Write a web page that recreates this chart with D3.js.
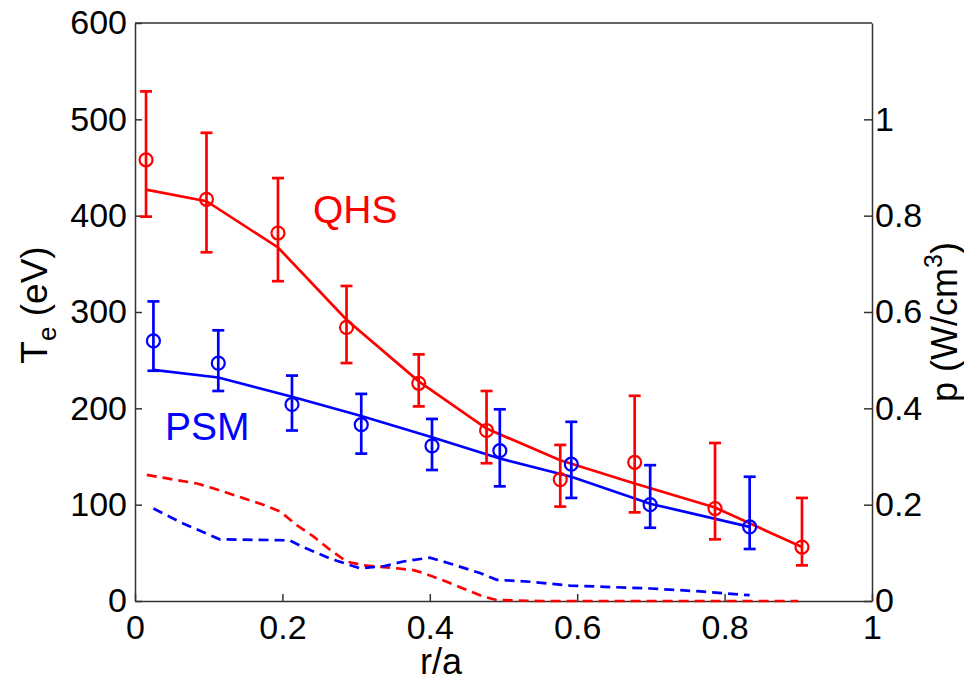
<!DOCTYPE html>
<html>
<head>
<meta charset="utf-8">
<script src="https://cdn.jsdelivr.net/npm/d3@7"></script>
<style>
  body { margin: 0; background: #fff; }
  svg { font-family: Arial, "Liberation Sans", sans-serif; }
  .axis path, .axis line { stroke: #333; stroke-width: 1.5; }
  .axis text { font-size: 34px; fill: #000; }
</style>
</head>
<body>
<svg id="chart"></svg>
<script>
// measured Te profiles (eV), r/a positions and error bar ends
const qhsR  = [0.015, 0.097, 0.194, 0.287, 0.385, 0.477, 0.577, 0.678, 0.787, 0.905];
const qhsTe = [458, 417, 382, 284, 226, 177, 126, 144, 96, 56];
const qhsLo = [399, 362, 332, 247, 202, 143, 98, 92, 64, 37];
const qhsHi = [529, 486, 439, 327, 256, 218, 162, 213, 164, 107];

const psmR  = [0.025, 0.113, 0.213, 0.307, 0.403, 0.495, 0.592, 0.699, 0.834];
const psmTe = [270, 247, 204, 183, 161, 156, 142, 100, 77];
const psmLo = [239, 218, 177, 153, 136, 119, 107, 76, 54];
const psmHi = [311, 281, 234, 215, 189, 199, 186, 141, 129];

// fitted Te curves (solid)
const qhsFitR  = [0.015, 0.097, 0.194, 0.287, 0.385, 0.477, 0.577, 0.678, 0.787, 0.905];
const qhsFitTe = [427, 415, 367, 292, 228, 179, 146, 122, 97, 56];
const psmFitR  = [0.025, 0.113, 0.213, 0.307, 0.403, 0.495, 0.592, 0.699, 0.834];
const psmFitTe = [240, 232, 212, 192, 170, 148, 129, 101, 77];

// power deposition profiles p (W/cm^3), right axis (dashed)
const qhsPR = [0.016, 0.038, 0.084, 0.106, 0.142, 0.174, 0.197, 0.219, 0.242, 0.265, 0.287,
  0.310, 0.355, 0.378, 0.391, 0.423, 0.445, 0.473, 0.491, 0.55, 0.7, 0.9];
const qhsP  = [0.262, 0.256, 0.244, 0.234, 0.216, 0.200, 0.186, 0.158, 0.134, 0.106, 0.082,
  0.074, 0.068, 0.064, 0.058, 0.040, 0.026, 0.009, 0.002, 0, 0, 0];
const psmPR = [0.025, 0.061, 0.097, 0.115, 0.210, 0.228, 0.265, 0.305, 0.337, 0.364, 0.400,
  0.427, 0.468, 0.491, 0.536, 0.590, 0.699, 0.767, 0.834];
const psmP  = [0.192, 0.164, 0.140, 0.128, 0.126, 0.112, 0.088, 0.068, 0.072, 0.082, 0.090,
  0.078, 0.058, 0.044, 0.040, 0.032, 0.026, 0.020, 0.012];

const xTicks = [0, 0.2, 0.4, 0.6, 0.8, 1];
const yTicks = [0, 100, 200, 300, 400, 500, 600];
const y2Ticks = [0, 0.2, 0.4, 0.6, 0.8, 1];

const width = 964, height = 681;
const margin = {top: 23, right: 92, bottom: 80, left: 135};
const w = width - margin.left - margin.right;
const h = height - margin.top - margin.bottom;

const svg = d3.select('#chart')
  .attr('width', width)
  .attr('height', height);

const g = svg.append('g')
  .attr('transform', 'translate(' + margin.left + ',' + margin.top + ')');

const x = d3.scaleLinear().domain([0, 1]).range([0, w]);
const y = d3.scaleLinear().domain([0, 600]).range([h, 0]);
const y2 = d3.scaleLinear().domain([0, 1.2]).range([h, 0]);

// frame top
g.append('line').attr('x1', 0).attr('x2', w).attr('y1', 0).attr('y2', 0)
  .attr('stroke', '#333').attr('stroke-width', 1.5);

g.append('g')
  .attr('class', 'axis')
  .attr('transform', 'translate(0,' + h + ')')
  .call(d3.axisBottom(x).tickValues(xTicks).tickSize(-7).tickSizeOuter(0).tickPadding(14)
    .tickFormat(d3.format('~g')));

g.append('g')
  .attr('class', 'axis')
  .call(d3.axisLeft(y).tickValues(yTicks).tickSize(-7).tickSizeOuter(0).tickPadding(8));

g.append('g')
  .attr('class', 'axis')
  .attr('transform', 'translate(' + w + ',0)')
  .call(d3.axisRight(y2).tickValues(y2Ticks).tickSize(-8).tickSizeOuter(0).tickPadding(3)
    .tickFormat(d3.format('~g')));

const line = d3.line().x(d => x(d[0])).y(d => y(d[1]));
const line2 = d3.line().x(d => x(d[0])).y(d => y2(d[1]));

function series(rs, vs) { return rs.map((r, i) => [r, vs[i]]); }

// dashed power profiles
[[qhsPR, qhsP, 'red'], [psmPR, psmP, 'blue']].forEach(([rs, vs, c]) => {
  g.append('path')
    .attr('d', line2(series(rs, vs)))
    .attr('fill', 'none')
    .attr('stroke', c)
    .attr('stroke-width', 2.7)
    .attr('stroke-dasharray', '10,6');
});

// fits
[[qhsFitR, qhsFitTe, 'red'], [psmFitR, psmFitTe, 'blue']].forEach(([rs, vs, c]) => {
  g.append('path')
    .attr('d', line(series(rs, vs)))
    .attr('fill', 'none')
    .attr('stroke', c)
    .attr('stroke-width', 2.7);
});

// error bars + circles
function points(rs, te, lo, hi, c) {
  const data = rs.map((r, i) => ({r: r, te: te[i], lo: lo[i], hi: hi[i]}));
  const pg = g.append('g').attr('stroke', c).attr('stroke-width', 2.7).attr('fill', 'none');
  pg.selectAll('.eb').data(data).join('line')
    .attr('x1', d => x(d.r)).attr('x2', d => x(d.r))
    .attr('y1', d => y(d.lo)).attr('y2', d => y(d.hi));
  pg.selectAll('.capTop').data(data).join('line')
    .attr('x1', d => x(d.r) - 6).attr('x2', d => x(d.r) + 6)
    .attr('y1', d => y(d.hi)).attr('y2', d => y(d.hi));
  pg.selectAll('.capBot').data(data).join('line')
    .attr('x1', d => x(d.r) - 6).attr('x2', d => x(d.r) + 6)
    .attr('y1', d => y(d.lo)).attr('y2', d => y(d.lo));
  pg.selectAll('circle').data(data).join('circle')
    .attr('cx', d => x(d.r)).attr('cy', d => y(d.te)).attr('r', 6.5)
    .attr('stroke-width', 2.2);
}
points(qhsR, qhsTe, qhsLo, qhsHi, 'red');
points(psmR, psmTe, psmLo, psmHi, 'blue');

// annotations
svg.append('text').attr('x', 313).attr('y', 223)
  .attr('font-size', 39).attr('fill', 'red').text('QHS');
svg.append('text').attr('x', 165).attr('y', 440)
  .attr('font-size', 39).attr('fill', 'blue').text('PSM');

// axis labels
const yl = svg.append('text')
  .attr('transform', 'translate(47,305) rotate(-90)')
  .attr('text-anchor', 'middle')
  .attr('font-size', 37);
yl.append('tspan').text('T');
yl.append('tspan').attr('font-size', 26).attr('dy', 9).text('e');
yl.append('tspan').attr('dy', -9).text(' (eV)');

const yr = svg.append('text')
  .attr('transform', 'translate(957,322) rotate(-90)')
  .attr('text-anchor', 'middle')
  .attr('font-size', 36);
yr.append('tspan').text('p (W/cm');
yr.append('tspan').attr('font-size', 25).attr('dy', -15).text('3');
yr.append('tspan').attr('dy', 15).text(')');

svg.append('text').attr('x', 441).attr('y', 674)
  .attr('text-anchor', 'middle').attr('font-size', 36).text('r/a');
</script>
</body>
</html>
